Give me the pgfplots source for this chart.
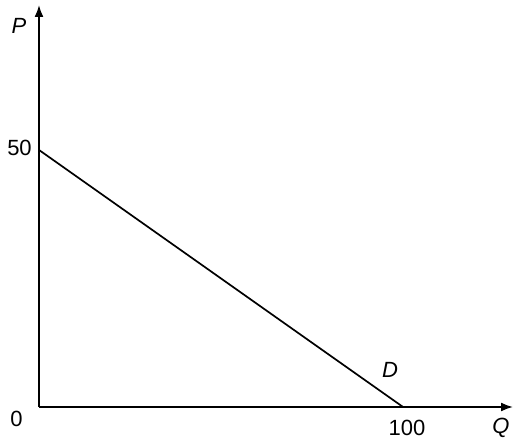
\documentclass[border=0pt]{standalone}
\usepackage{pgfplots}
\pgfplotsset{compat=1.18}
\usetikzlibrary{arrows.meta}
\usepackage{fontspec}
\setmainfont{Liberation Sans}
\begin{document}
\begin{tikzpicture}
\path[use as bounding box] (-39pt,-32pt) rectangle (478pt,407pt);
\begin{axis}[
  scale only axis,
  width=474pt, height=402pt,
  xmin=0, xmax=130.2, ymin=0, ymax=78.2,
  axis lines=left,
  axis line style={line width=1.8pt, -{Latex[length=12pt,width=9pt]}},
  xtick=\empty, ytick=\empty,
  clip=false,
]
\addplot[black, line width=1.7pt] coordinates {(0,50) (100,0)};
\node[font=\fontsize{22}{26}\selectfont\itshape] at (axis cs:-5.5,74.1) {P};
\node[font=\fontsize{22}{26}\selectfont] at (axis cs:-5.36,50.3) {50};
\node[font=\fontsize{22}{26}\selectfont] at (axis cs:-6.2,-2.33) {0};
\node[font=\fontsize{22}{26}\selectfont] at (axis cs:101.1,-3.99) {100};
\node[font=\fontsize{22}{26}\selectfont\itshape] at (axis cs:126.9,-4.09) {Q};
\node[font=\fontsize{22}{26}\selectfont\itshape] at (axis cs:96.4,7.2) {D};
\end{axis}
\end{tikzpicture}
\end{document}
